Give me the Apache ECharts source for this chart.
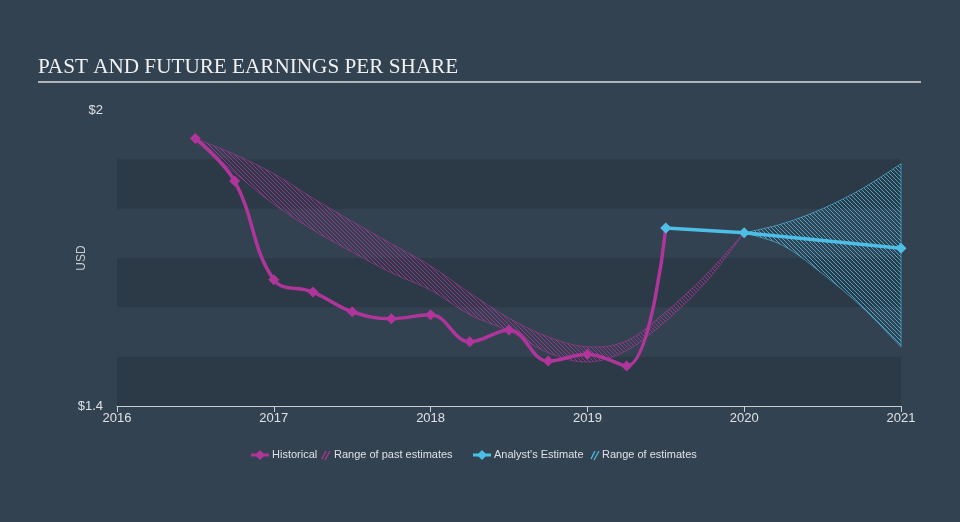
<!DOCTYPE html>
<html>
<head>
<meta charset="utf-8">
<script src="https://cdn.jsdelivr.net/npm/echarts@6/dist/echarts.min.js"></script>
<style>
html,body{margin:0;padding:0;background:#334251;}
#c{width:960px;height:522px;}
</style>
</head>
<body>
<div id="c"></div>
<script>
// ---- data ----
const historicalX = [2016.5, 2016.75, 2017.0, 2017.25, 2017.5, 2017.75, 2018.0, 2018.25, 2018.5, 2018.75, 2019.0, 2019.25, 2019.5];
const historicalY = [1.942, 1.856, 1.656, 1.631, 1.591, 1.577, 1.585, 1.530, 1.554, 1.491, 1.505, 1.481, 1.761];

const analystX = [2019.5, 2020.0, 2021.0];
const analystY = [1.761, 1.751, 1.720];

const pastRangeX = [2016.5, 2016.75, 2017.0, 2017.25, 2017.5, 2017.75, 2018.0, 2018.25, 2018.5, 2018.75, 2019.0, 2019.25, 2019.5, 2019.75, 2020.0];
const pastRangeLow = [1.942, 1.873, 1.809, 1.757, 1.712, 1.670, 1.635, 1.585, 1.552, 1.508, 1.489, 1.512, 1.572, 1.649, 1.751];
const pastRangeHigh = [1.942, 1.910, 1.871, 1.821, 1.774, 1.729, 1.684, 1.629, 1.578, 1.540, 1.520, 1.532, 1.591, 1.664, 1.751];

const futRangeX = [2020.0, 2020.25, 2020.5, 2020.75, 2021.0];
const futRangeLow = [1.751, 1.725, 1.668, 1.601, 1.520];
const futRangeHigh = [1.751, 1.770, 1.800, 1.840, 1.891];

const xTicks = [2016, 2017, 2018, 2019, 2020, 2021];
const yMin = 1.4, yMax = 2.0;
const yLabels = {"1.4": "$1.4", "2": "$2"};

const titleText = "PAST AND FUTURE EARNINGS PER SHARE";
const legendNames = ["Historical", "Range of past estimates", "Analyst's Estimate", "Range of estimates"];

// ---- styles ----
const MAG = '#b0359a';
const BLUE = '#4dbfe6';

function hatch(color) {
  const c = document.createElement('canvas');
  c.width = 4; c.height = 4;
  const g = c.getContext('2d');
  g.strokeStyle = color; g.lineWidth = 1;
  g.beginPath();
  g.moveTo(0, 0); g.lineTo(4, 4);
  g.moveTo(-1, 3); g.lineTo(1, 5);
  g.moveTo(3, -1); g.lineTo(5, 1);
  g.stroke();
  return {image: c, repeat: 'repeat'};
}

const zip = (xs, ys) => xs.map((x, i) => [x, ys[i]]);

// Catmull-Rom -> cubic bezier segments
function curveCmds(pts, k) {
  let d = '';
  for (let i = 0; i < pts.length - 1; i++) {
    const p0 = pts[i - 1] || pts[i], p1 = pts[i], p2 = pts[i + 1], p3 = pts[i + 2] || p2;
    const c1x = p1[0] + (p2[0] - p0[0]) * k / 6, c1y = p1[1] + (p2[1] - p0[1]) * k / 6;
    const c2x = p2[0] - (p3[0] - p1[0]) * k / 6, c2y = p2[1] - (p3[1] - p1[1]) * k / 6;
    d += ` C${c1x},${c1y} ${c2x},${c2y} ${p2[0]},${p2[1]}`;
  }
  return d;
}

function bandSeries(xs, lo, hi, color, fillColor) {
  return {
    type: 'custom', silent: true, z: 2,
    data: [[xs[0], lo[0]]],
    renderItem: function (params, api) {
      const up = xs.map((x, i) => api.coord([x, hi[i]]));
      const dn = xs.map((x, i) => api.coord([x, lo[i]])).reverse();
      let d = `M${up[0][0]},${up[0][1]}` + curveCmds(up, 1) +
              ` L${dn[0][0]},${dn[0][1]}` + curveCmds(dn, 1) + ' Z';
      return {
        type: 'path', shape: {pathData: d},
        style: {fill: hatch(fillColor), stroke: color, lineWidth: 0.8, opacity: 1}
      };
    }
  };
}

const chart = echarts.init(document.getElementById('c'), null, {renderer: 'canvas'});

const option = {
  animation: false,
  backgroundColor: '#334251',
  grid: {left: 117, right: 59, top: 110, bottom: 116, containLabel: false},
  xAxis: {
    type: 'value', min: xTicks[0], max: xTicks[xTicks.length - 1], interval: 1,
    axisLine: {show: true, lineStyle: {color: '#c8cdd2', width: 1}},
    axisTick: {show: true, length: 6, lineStyle: {color: '#c8cdd2'}},
    axisLabel: {color: '#dde1e5', fontSize: 13, fontFamily: 'Liberation Sans', margin: 6, formatter: v => String(v)},
    splitLine: {show: false}
  },
  yAxis: {
    type: 'value', min: yMin, max: yMax, interval: 0.1,
    name: 'USD', nameLocation: 'middle', nameGap: 29, nameRotate: 90, nameMoveOverlap: false,
    nameTextStyle: {color: '#c9ced3', fontSize: 12, fontFamily: 'Liberation Sans'},
    axisLine: {show: false}, axisTick: {show: false},
    axisLabel: {
      color: '#dde1e5', fontSize: 13, fontFamily: 'Liberation Sans', margin: 14,
      formatter: v => { const k = String(Math.round(v * 10) / 10); return yLabels[k] || ''; }
    },
    splitLine: {show: false},
    splitArea: {show: true, areaStyle: {color: ['rgba(30,40,52,0.28)', 'rgba(0,0,0,0)']}}
  },
  series: [
    bandSeries(pastRangeX, pastRangeLow, pastRangeHigh, 'rgba(176,53,154,0.75)', 'rgba(176,53,154,0.8)'),
    bandSeries(futRangeX, futRangeLow, futRangeHigh, 'rgba(77,191,230,0.8)', 'rgba(77,191,230,0.8)'),
    {
      type: 'line', name: legendNames[0], data: zip(historicalX, historicalY),
      smooth: 0.4, symbol: 'diamond', symbolSize: 11, showSymbol: true,
      lineStyle: {color: MAG, width: 3.5}, itemStyle: {color: MAG}, z: 4
    },
    {
      type: 'line', name: legendNames[2], data: zip(analystX, analystY),
      smooth: false, symbol: 'diamond', symbolSize: 11, showSymbol: true,
      lineStyle: {color: BLUE, width: 3.5}, itemStyle: {color: BLUE}, z: 5
    }
  ],
  graphic: [
    {type: 'text', left: 38, top: 57, style: {text: titleText, fill: '#eef0f2', font: '21.2px "Liberation Serif"'}},
    {type: 'line', shape: {x1: 38, y1: 82, x2: 921, y2: 82}, style: {stroke: '#aeb4ba', lineWidth: 2}},
    // legend
    {type: 'line', shape: {x1: 251, y1: 455, x2: 269, y2: 455}, style: {stroke: MAG, lineWidth: 3}},
    {type: 'polygon', shape: {points: [[260, 450], [265, 455], [260, 460], [255, 455]]}, style: {fill: MAG}},
    {type: 'text', x: 272, y: 455, style: {text: legendNames[0], fill: '#dde1e5', font: '11px "Liberation Sans"', verticalAlign: 'middle'}},
    {type: 'line', shape: {x1: 322, y1: 459, x2: 326, y2: 451}, style: {stroke: MAG, lineWidth: 1.2}},
    {type: 'line', shape: {x1: 325, y1: 460, x2: 330, y2: 451}, style: {stroke: MAG, lineWidth: 1.2}},
    {type: 'text', x: 334, y: 455, style: {text: legendNames[1], fill: '#dde1e5', font: '11px "Liberation Sans"', verticalAlign: 'middle'}},
    {type: 'line', shape: {x1: 473, y1: 455, x2: 491, y2: 455}, style: {stroke: BLUE, lineWidth: 3}},
    {type: 'polygon', shape: {points: [[482, 450], [487, 455], [482, 460], [477, 455]]}, style: {fill: BLUE}},
    {type: 'text', x: 494, y: 455, style: {text: legendNames[2], fill: '#dde1e5', font: '11px "Liberation Sans"', verticalAlign: 'middle'}},
    {type: 'line', shape: {x1: 591, y1: 459, x2: 595, y2: 451}, style: {stroke: BLUE, lineWidth: 1.2}},
    {type: 'line', shape: {x1: 594, y1: 460, x2: 599, y2: 451}, style: {stroke: BLUE, lineWidth: 1.2}},
    {type: 'text', x: 602, y: 455, style: {text: legendNames[3], fill: '#dde1e5', font: '11px "Liberation Sans"', verticalAlign: 'middle'}}
  ]
};
chart.setOption(option);
</script>
</body>
</html>
